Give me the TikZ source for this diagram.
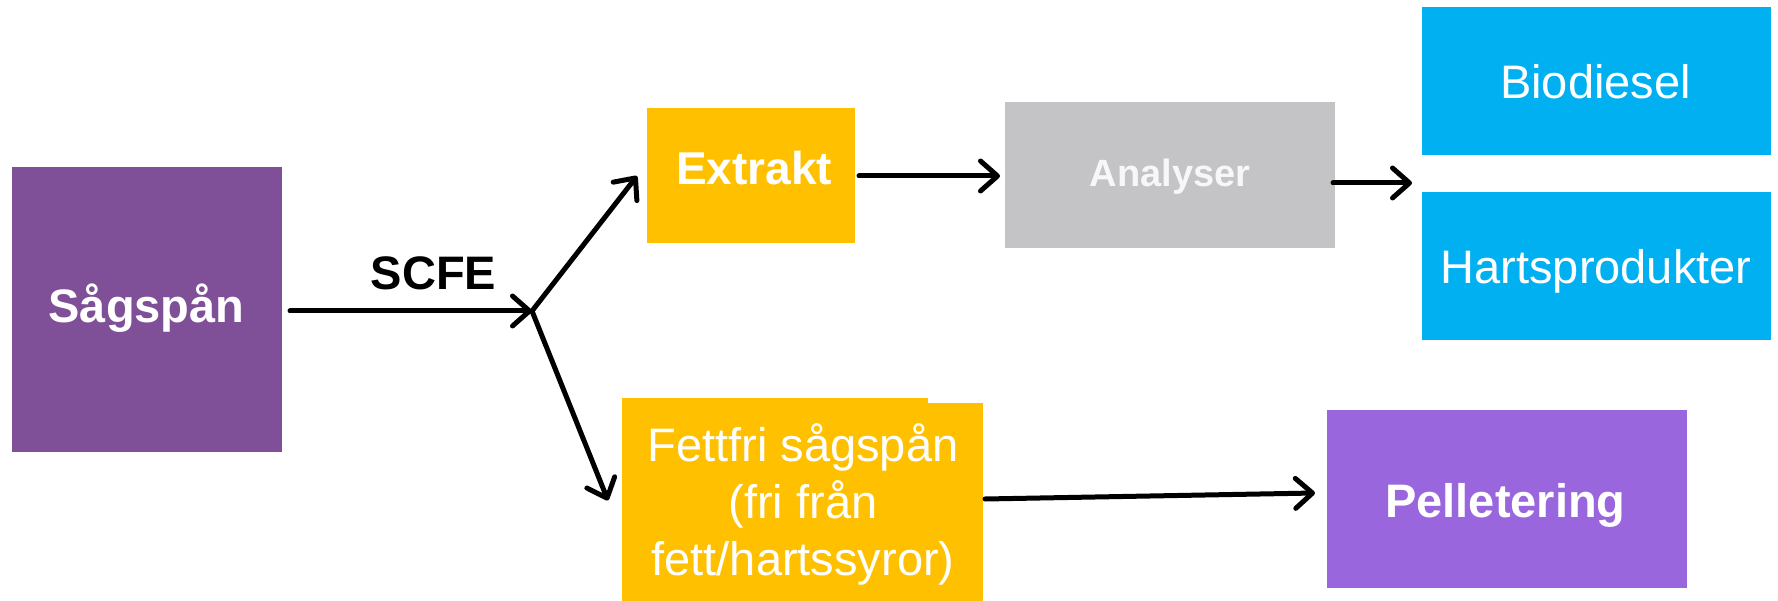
\documentclass[tikz,border=0pt]{standalone}
\usepackage{fontspec}
\setmainfont{Liberation Sans}
\usetikzlibrary{arrows.meta,calc}
\definecolor{sagpurple}{HTML}{7F4F98}
\definecolor{pellpurple}{HTML}{9966DD}
\definecolor{gold}{HTML}{FFC000}
\definecolor{midgray}{HTML}{C4C4C6}
\definecolor{skyblue}{HTML}{00B0F0}
\definecolor{offwhite}{HTML}{F7F7F7}
\tikzset{
  box/.style={rectangle, inner sep=0pt, outer sep=0pt, draw=none},
  lbl/.style={anchor=base, inner sep=0pt, text=white},
  bigb/.style={font=\fontsize{47}{57}\selectfont\bfseries},
  bigr/.style={font=\fontsize{47}{57}\selectfont},
  arr/.style={line width=5pt, line cap=round, line join=round,
    -{Straight Barb[length=17pt,width=30pt,line cap=round,line join=round]}}
}
\begin{document}
\begin{tikzpicture}[x=1pt,y=-1pt]
\useasboundingbox[fill=white] (0,0) rectangle (1778,601);
% boxes
\node[box, fill=sagpurple, minimum width=270pt, minimum height=285pt] (sag) at (147,309.5) {};
\node[box, fill=gold, minimum width=208pt, minimum height=135pt] (extr) at (751,175.5) {};
\node[box, fill=midgray, minimum width=330pt, minimum height=146pt] (anal) at (1170,175) {};
\node[box, fill=skyblue, minimum width=349pt, minimum height=148pt] (bio) at (1596.5,81) {};
\node[box, fill=skyblue, minimum width=349pt, minimum height=148pt] (harts) at (1596.5,266) {};
\node[box, fill=gold, minimum width=361pt, minimum height=198pt] (fett) at (802.5,502) {};
\node[box, fill=gold, minimum width=306pt, minimum height=10pt, anchor=north west] (fetttop) at (622,398) {};
\node[box, fill=pellpurple, minimum width=360pt, minimum height=178pt] (pell) at (1507,499) {};
% texts
\node[lbl, bigb] (tsag) at (146.5,323) {Sågspån};
\node[lbl, bigb, text=black] (tscfe) at (433.5,290) {SCFE};
\node[lbl, font=\fontsize{46}{55}\selectfont\bfseries] (textr) at (754,185) {Extrakt};
\node[lbl, font=\fontsize{38}{46}\selectfont\bfseries, text=offwhite] (tanal) at (1170,187) {Analyser};
\node[lbl, bigr] (tbio) at (1595.5,99) {Biodiesel};
\node[lbl, bigr] (tharts) at (1596,284) {Hartsprodukter};
\node[lbl, bigr] (tf1) at (803,461) {Fettfri sågspån};
\node[lbl, bigr] (tf2) at (803,518) {(fri från};
\node[lbl, bigr] (tf3) at (803,575) {fett/hartssyror)};
\node[lbl, bigb] (tpell) at (1505.5,517) {Pelletering};
% connectors
\coordinate (J) at (532,311);
\coordinate (split) at (1412,183);
\draw[arr] ([shift={(8,1.5)}]sag.east) -- (J);
\draw[arr] (J) -- ([shift={(-10,0.5)}]extr.west);
\draw[arr] (J) -- ([shift={(-14,-1.5)}]fett.west);
\draw[arr] ([shift={(4,0.5)}]extr.east) -- ([shift={(-5,1)}]anal.west);
\draw[arr] ([shift={(-2,8)}]anal.east) -- (split);
\draw[arr] ([shift={(2,-3)}]fett.east) -- ([shift={(-12,-6)}]pell.west);
\end{tikzpicture}
\end{document}
